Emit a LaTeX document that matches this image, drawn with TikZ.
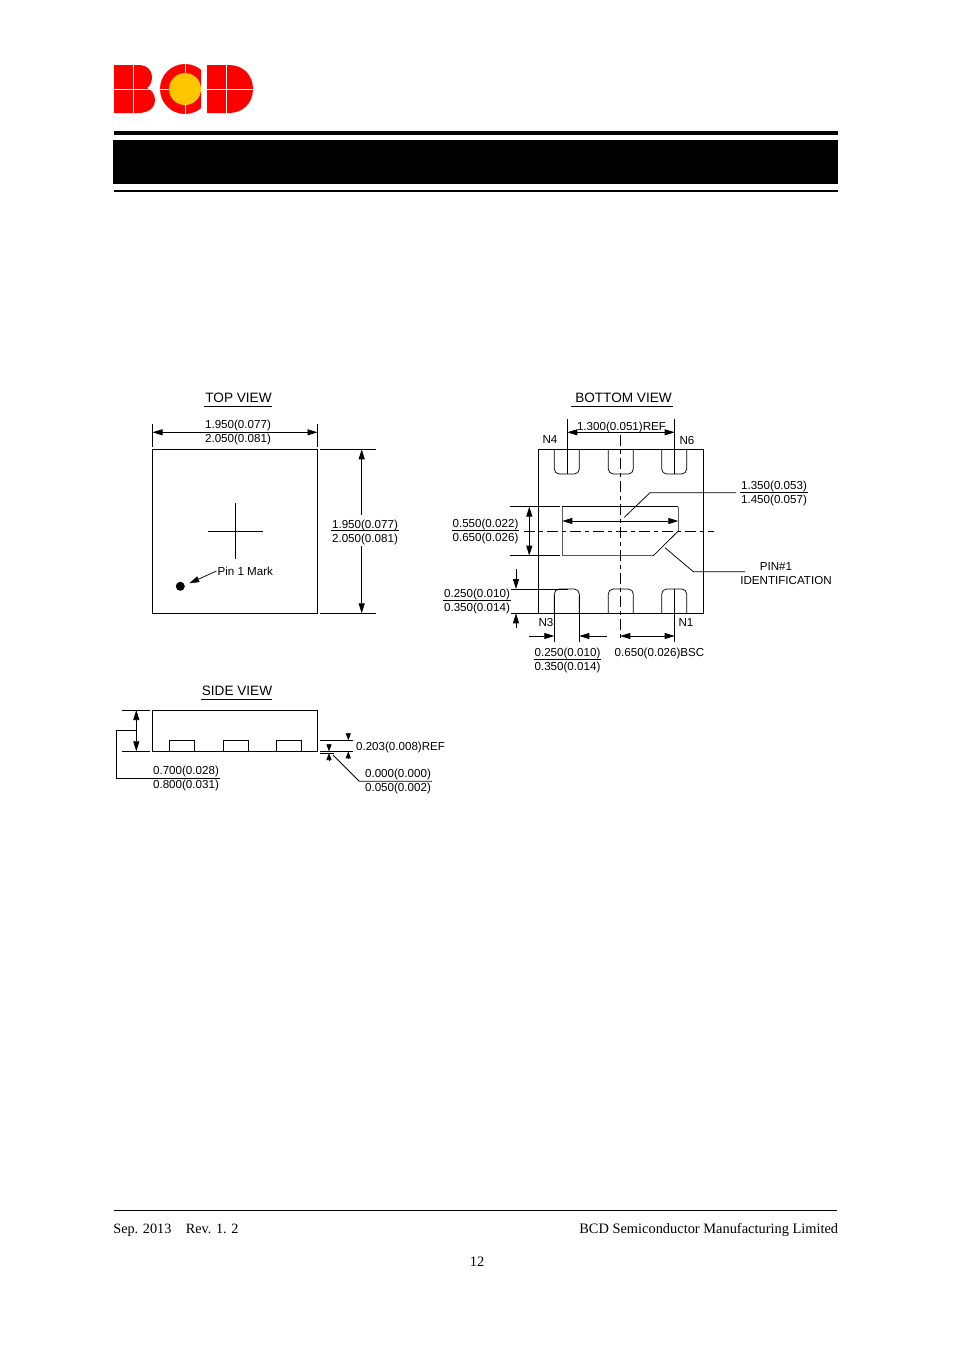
\documentclass[tikz,border=0pt]{standalone}
\usepackage{fontspec}
\setmainfont{Liberation Serif}
\newfontfamily\drawfont{Liberation Sans}
\usetikzlibrary{arrows.meta,positioning}

\begin{document}
\begin{tikzpicture}[x=1pt,y=-1pt,>={Stealth[length=10pt,width=6pt,inset=0pt]},line width=0.75pt]
\tikzstyle{dimtext}=[inner xsep=0.7pt,inner ysep=0pt,font=\drawfont\fontsize{11.6}{12}\selectfont]
\tikzstyle{viewtext}=[inner sep=0pt,font=\drawfont\fontsize{13.6}{14}\selectfont]
\tikzstyle{foot}=[inner sep=0pt,font=\fontsize{14.4}{15}\selectfont]
\tikzstyle{center line}=[dash pattern=on 11pt off 4pt on 4pt off 4pt]
\tikzstyle{small}=[>={Stealth[length=7pt,width=5pt,inset=0pt]}]
\tikzstyle{faint}=[draw=black!65,line width=1pt]
\tikzset{pad/.style={rounded corners=5pt}}
\definecolor{logored}{RGB}{255,0,0}
\definecolor{logoyellow}{RGB}{255,198,0}

\useasboundingbox (0,0) rectangle (954,1350);

% logo
\fill[logored] (114,65) -- (138,65) .. controls (148,65) and (152,71) .. (152,77) .. controls (152,82) and (150,86) .. (147,88) .. controls (152,90) and (155,95) .. (155,100) .. controls (155,108) and (148,113) .. (138,113) -- (114,113) -- cycle;
\begin{scope}
\clip (150,60) rectangle (201,118);
\fill[logored] (185,89) circle (25);
\end{scope}
\fill[logored] (207,65) -- (229,65) .. controls (243,65) and (253,75) .. (253,89) .. controls (253,103) and (243,113) .. (229,113) -- (207,113) -- cycle;
\draw[white,line width=0.8pt] (133,64) -- (133,114) (113,89) -- (156,89) (185,63) -- (185,115) (158,89) -- (170,89) (226.7,64) -- (226.7,114) (206,89) -- (254,89);
\fill[logoyellow] (185,89) circle (16);

% header
\fill (114,131) rectangle (838,135);
\fill (113,140) rectangle (838,184);
\fill (114,190) rectangle (838,192);

% top view
\node[viewtext] (TT) at (238.5,398) {TOP VIEW};
\draw (204,406) -- (272,406);
\coordinate (TA) at (152.5,449.3);
\coordinate (TB) at (317.5,613.3);
\draw (TA) rectangle (TB);
\coordinate (W1) at (152.5,424);
\coordinate (W2) at (152.5,447);
\coordinate (W3) at (317.5,424);
\coordinate (W4) at (317.5,447);
\coordinate (WA) at (152.5,432.3);
\coordinate (WB) at (317.5,432.3);
\node[dimtext] (T1) at (238,425) {1.950(0.077)};
\node[dimtext] (T2) [below of=T1,node distance=14pt] {2.050(0.081)};
\coordinate (H1) at (320,449.3);
\coordinate (H2) at (376,449.3);
\coordinate (H3) at (320,613.3);
\coordinate (H4) at (376,613.3);
\node[dimtext] (T3) at (365,525) {1.950(0.077)};
\node[dimtext] (T4) [below of=T3,node distance=14pt] {2.050(0.081)};
\coordinate (HA) at (361.7,449.3);
\coordinate (HB) at (361.7,613.3);
\coordinate (HC) at (361.7,515);
\coordinate (HD) at (361.7,546);
\coordinate (C1) at (207.7,531);
\coordinate (C2) at (262.7,531);
\coordinate (C3) at (235,503);
\coordinate (C4) at (235,559);
\node[dimtext,anchor=west] (PM) at (216.5,571) {Pin 1 Mark};
\node[circle,fill,inner sep=0pt,minimum size=9pt] (PD) at (180.3,586.3) {};
\coordinate (PA) at (189.3,583.3);
\path
(W1) edge (W2)
(W3) edge (W4)
(WA) edge[<->] (WB)
(H1) edge (H2)
(H3) edge (H4)
(HC) edge[->] (HA)
(HD) edge[->] (HB)
(C1) edge (C2)
(C3) edge (C4)
(T3.south west) edge (T3.south east)
(PM.west) edge[->] (PA);

% bottom view
\node[viewtext] (BT) at (623.5,398) {BOTTOM VIEW};
\draw (571,406) -- (673,406);
\draw (538.7,449.3) rectangle (703.3,613.3);
\foreach \x in {554.3,608.3,661.7}{
  \draw[pad] (\x,449.3) -- (\x,474) -- (\x+25,474) -- (\x+25,449.3);
  \draw[pad] (\x,613.3) -- (\x,589) -- (\x+25,589) -- (\x+25,613.3);
}
\draw[faint] (678.3,531) -- (678.3,506.7) (562.3,506.7) -- (562.3,555.7) -- (653.3,555.7);
\draw (562.3,506.7) -- (678.3,506.7);
\draw (678.3,531) -- (653.3,555.7);
\node[dimtext] (N4) at (550,440) {N4};
\node[dimtext] (N6) at (687,440) {N6};
\node[dimtext] (N3) at (546,622) {N3};
\node[dimtext] (N1) at (686,622) {N1};
\node[dimtext] (B1) at (621.5,427) {1.300(0.051)REF};
\node[dimtext] (B2) at (774,486.5) {1.350(0.053)};
\node[dimtext] (B3) [below of=B2,node distance=14pt] {1.450(0.057)};
\node[dimtext] (B4) at (485.5,524.5) {0.550(0.022)};
\node[dimtext] (B5) [below of=B4,node distance=14pt] {0.650(0.026)};
\node[dimtext] (B6) at (477,594.5) {0.250(0.010)};
\node[dimtext] (B7) [below of=B6,node distance=14pt] {0.350(0.014)};
\node[dimtext] (B8) at (567.5,653.5) {0.250(0.010)};
\node[dimtext] (B9) [below of=B8,node distance=14pt] {0.350(0.014)};
\node[dimtext] (B10) at (659.5,653.5) {0.650(0.026)BSC};
\node[dimtext] (PN) at (776,567) {PIN\#1};
\node[dimtext] (ID) at (786,580) {IDENTIFICATION};
\coordinate (E1) at (567.3,419.3);
\coordinate (E2) at (567.3,474);
\coordinate (E3) at (674.7,419.3);
\coordinate (E4) at (674.7,474);
\coordinate (EA) at (567.3,432.3);
\coordinate (EB) at (674.7,432.3);
\coordinate (L1) at (620.3,435);
\coordinate (L2) at (620.3,641.7);
\coordinate (L3) at (524,531);
\coordinate (L4) at (714,531);
\coordinate (M1) at (510.3,506.7);
\coordinate (M2) at (560,506.7);
\coordinate (M3) at (510.3,555.7);
\coordinate (M4) at (560,555.7);
\coordinate (MA) at (529.3,506.7);
\coordinate (MB) at (529.3,555.7);
\coordinate (I1) at (562.3,521);
\coordinate (I2) at (678.3,521);
\coordinate (K1) at (624.3,517.3);
\coordinate (K2) at (650,492.7);
\coordinate (K3) at (736,492.7);
\coordinate (P1) at (665,547.7);
\coordinate (P2) at (693.3,571.7);
\coordinate (P3) at (745,571.7);
\coordinate (R1) at (511,589);
\coordinate (R2) at (568,589);
\coordinate (R3) at (511,613.3);
\coordinate (R4) at (538.7,613.3);
\coordinate (S1) at (516,569);
\coordinate (S2) at (516,589);
\coordinate (S3) at (516,628);
\coordinate (S4) at (516,613.3);
\coordinate (G1) at (554.3,595);
\coordinate (G2) at (554.3,641.7);
\coordinate (G3) at (579.3,595);
\coordinate (G4) at (579.3,641.7);
\coordinate (G5) at (529.3,636);
\coordinate (G6) at (554.3,636);
\coordinate (G7) at (606.7,636);
\coordinate (G8) at (579.3,636);
\coordinate (Q1) at (674.7,589);
\coordinate (Q2) at (674.7,641.7);
\coordinate (QA) at (620.3,636);
\coordinate (QB) at (674.7,636);
\path
(E1) edge (E2)
(E3) edge (E4)
(EA) edge[<->] (EB)
(L1) edge[center line] (L2)
(L3) edge[center line] (L4)
(M1) edge (M2)
(M3) edge (M4)
(MA) edge[<->] (MB)
(I1) edge[<->] (I2)
(R1) edge (R2)
(R3) edge (R4)
(S1) edge[->] (S2)
(S3) edge[->] (S4)
(G1) edge (G2)
(G3) edge (G4)
(G5) edge[->] (G6)
(G7) edge[->] (G8)
(Q1) edge (Q2)
(QA) edge[<->] (QB)
(B2.south west) edge (B2.south east)
(B4.south west) edge (B4.south east)
(B6.south west) edge (B6.south east)
(B8.south west) edge (B8.south east);
\draw (K1) -- (K2) -- (K3);
\draw (P1) -- (P2) -- (P3);

% side view
\node[viewtext] (ST) at (237,690.5) {SIDE VIEW};
\draw (200.5,699) -- (272,699);
\draw (152.3,710) rectangle (317.7,751.3);
\foreach \x in {169.3,223.3,276.3}{
  \draw (\x,751.3) rectangle (\x+25,740.3);
}
\node[dimtext] (S5) at (186,771.5) {0.700(0.028)};
\node[dimtext] (S6) [below of=S5,node distance=14pt] {0.800(0.031)};
\node[dimtext,anchor=west] (S7) at (355,747) {0.203(0.008)REF};
\node[dimtext] (S8) at (398,774.5) {0.000(0.000)};
\node[dimtext] (S9) [below of=S8,node distance=14pt] {0.050(0.002)};
\coordinate (V1) at (122.3,710);
\coordinate (V2) at (150,710);
\coordinate (V3) at (122.3,751.3);
\coordinate (V4) at (150,751.3);
\coordinate (VA) at (136.3,710);
\coordinate (VB) at (136.3,751.3);
\coordinate (VC) at (136.3,730);
\coordinate (VD) at (116,730);
\coordinate (VE) at (116,778);
\coordinate (VF) at (220,778);
\coordinate (X1) at (320,740.3);
\coordinate (X2) at (353,740.3);
\coordinate (X3) at (320,751.3);
\coordinate (X4) at (353,751.3);
\coordinate (XA) at (348.3,733);
\coordinate (XB) at (348.3,740.3);
\coordinate (XC) at (348.3,758);
\coordinate (XD) at (348.3,751.3);
\coordinate (Y1) at (320,753);
\coordinate (Y2) at (334,753);
\coordinate (YA) at (329,745);
\coordinate (YB) at (329,751.3);
\coordinate (YC) at (329,759.5);
\coordinate (YD) at (329,753);
\coordinate (Z1) at (333,755);
\coordinate (Z2) at (359.3,781.3);
\coordinate (Z3) at (S8.south east);
\path
(V1) edge (V2)
(V3) edge (V4)
(VA) edge[<->] (VB)
(X1) edge (X2)
(X3) edge (X4)
(XA) edge[->,small] (XB)
(XC) edge[->,small] (XD)
(Y1) edge (Y2)
(YA) edge[->,small] (YB)
(YC) edge[->,small] (YD);
\draw (VC) -- (VD) -- (VE) -- (VF);
\draw (Z1) -- (Z2) -- (Z2 -| Z3);

% footer
\draw (114,1210.5) -- (837,1210.5);
\node[foot,anchor=base west,font=\fontsize{14.2}{15}\selectfont] (F1) at (113,1233) {Sep. 2013};
\node[foot,anchor=base west,font=\fontsize{14.2}{15}\selectfont] (F2) at (185.5,1233) {Rev. 1. 2};
\node[foot,anchor=base east] (F3) at (838.5,1233) {BCD Semiconductor Manufacturing Limited};
\node[foot,anchor=base] (F4) at (477,1266) {12};
\end{tikzpicture}
\end{document}
